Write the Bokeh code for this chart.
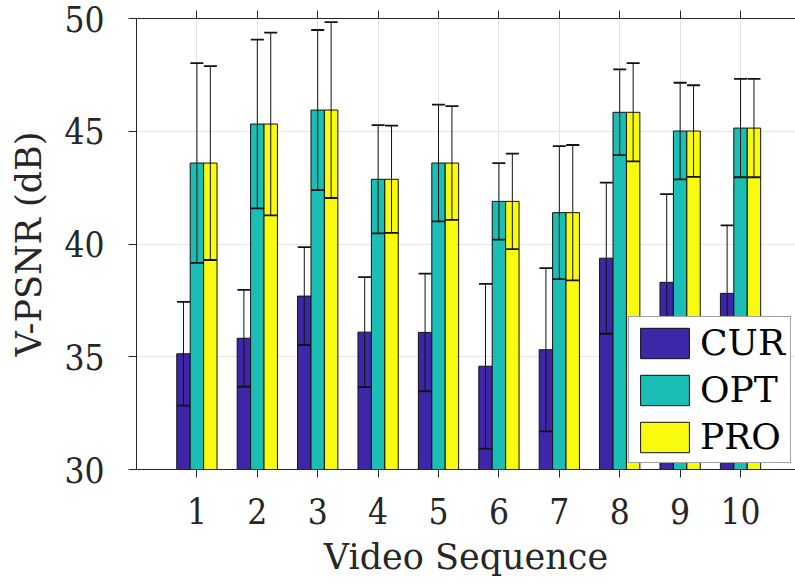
from bokeh.plotting import figure
from bokeh.models import (ColumnDataSource, Range1d, FixedTicker, LinearAxis, Whisker,
                          TeeHead, Legend, LegendItem)
from bokeh.embed import file_html
from bokeh.resources import INLINE

# ---- data ----
sequences = [1, 2, 3, 4, 5, 6, 7, 8, 9, 10]
cur = [35.13, 35.82, 37.69, 36.09, 36.08, 34.58, 35.31, 39.37, 38.30, 37.81]
opt = [43.59, 45.32, 45.94, 42.87, 43.59, 41.89, 41.39, 45.84, 45.01, 45.14]
pro = [43.59, 45.32, 45.94, 42.87, 43.59, 41.89, 41.39, 45.84, 45.01, 45.14]
cur_err = [2.30, 2.15, 2.17, 2.44, 2.61, 3.65, 3.62, 3.35, 3.91, 3.02]
opt_err = [4.43, 3.74, 3.55, 2.40, 2.59, 1.70, 2.95, 1.90, 2.14, 2.18]
pro_err = [4.30, 4.05, 3.90, 2.38, 2.52, 2.12, 3.00, 2.18, 2.03, 2.18]
series_names = ["CUR", "OPT", "PRO"]
y_ticks = [30, 35, 40, 45, 50]

colors = ["#3E26A8", "#1ABEB5", "#F9FB0E"]
TXT = "#262626"
SERIF = "DejaVu Serif"
SERIF_C = "DejaVu Serif Condensed"

p = figure(width=795, height=585, output_backend="svg", toolbar_location=None,
           x_range=Range1d(0, 10.91), y_range=Range1d(30, 50),
           min_border_left=136, min_border_right=0, min_border_top=18,
           min_border_bottom=116, outline_line_color=None)
p.background_fill_color = "white"
p.border_fill_color = "white"

bar_w = 0.6667 / 3
offsets = [-bar_w, 0.0, bar_w]
renderers = []
for vals, errs, off, col in zip([cur, opt, pro], [cur_err, opt_err, pro_err], offsets, colors):
    xs = [s + off for s in sequences]
    src = ColumnDataSource(dict(x=xs, top=vals,
                                upper=[v + e for v, e in zip(vals, errs)],
                                lower=[v - e for v, e in zip(vals, errs)]))
    r = p.vbar(x="x", top="top", bottom=30, width=bar_w, source=src,
               fill_color=col, line_color="#111111", line_width=1)
    renderers.append((r, src))

for r, src in renderers:
    w = Whisker(source=src, base="x", upper="upper", lower="lower", level="guide",
                line_color="#111111", line_width=1,
                upper_head=TeeHead(size=13, line_color="#111111", line_width=1.8),
                lower_head=TeeHead(size=13, line_color="#111111", line_width=1.8))
    p.add_layout(w)

# axes
p.xaxis.ticker = FixedTicker(ticks=sequences)
p.yaxis.ticker = FixedTicker(ticks=y_ticks)
for ax in (p.xaxis[0], p.yaxis[0]):
    ax.major_tick_out = 8
    ax.major_tick_in = 0
    ax.minor_tick_line_color = None
    ax.axis_line_color = TXT
    ax.major_tick_line_color = TXT
    ax.major_label_text_font = SERIF_C
    ax.major_label_text_font_size = "35px"
    ax.major_label_text_color = TXT
    ax.axis_label_text_font = SERIF
    ax.axis_label_text_font_size = "35px"
    ax.axis_label_text_font_style = "normal"
    ax.axis_label_text_color = TXT
p.xaxis.axis_label = "Video Sequence"
p.yaxis.axis_label = "V-PSNR (dB)"
p.xaxis.major_label_standoff = 20
p.xaxis.axis_label_standoff = 10
p.yaxis.major_label_standoff = 24
p.yaxis.axis_label_standoff = 12

top_ax = LinearAxis(ticker=FixedTicker(ticks=sequences), major_tick_out=8, major_tick_in=0,
                    minor_tick_line_color=None, axis_line_color=TXT,
                    major_tick_line_color=TXT, major_label_text_font_size="1px",
                    major_label_text_color=None, major_label_standoff=0)
p.add_layout(top_ax, "above")

p.xgrid.ticker = FixedTicker(ticks=sequences)
p.ygrid.ticker = FixedTicker(ticks=y_ticks)
p.grid.grid_line_color = "#E3E3E3"
p.grid.grid_line_width = 1

legend = Legend(items=[LegendItem(label=n, renderers=[r]) for n, (r, _) in zip(series_names, renderers)],
                location=(492, 6), orientation="vertical",
                glyph_width=61, glyph_height=38, label_height=38,
                label_text_font=SERIF, label_text_font_size="36px", label_text_color="black",
                label_standoff=5, spacing=6, padding=5, margin=0,
                border_line_color="#444444", border_line_width=1,
                background_fill_color="white", background_fill_alpha=1.0)
p.add_layout(legend, "center")

open("out.html", "w").write(file_html(p, INLINE))
